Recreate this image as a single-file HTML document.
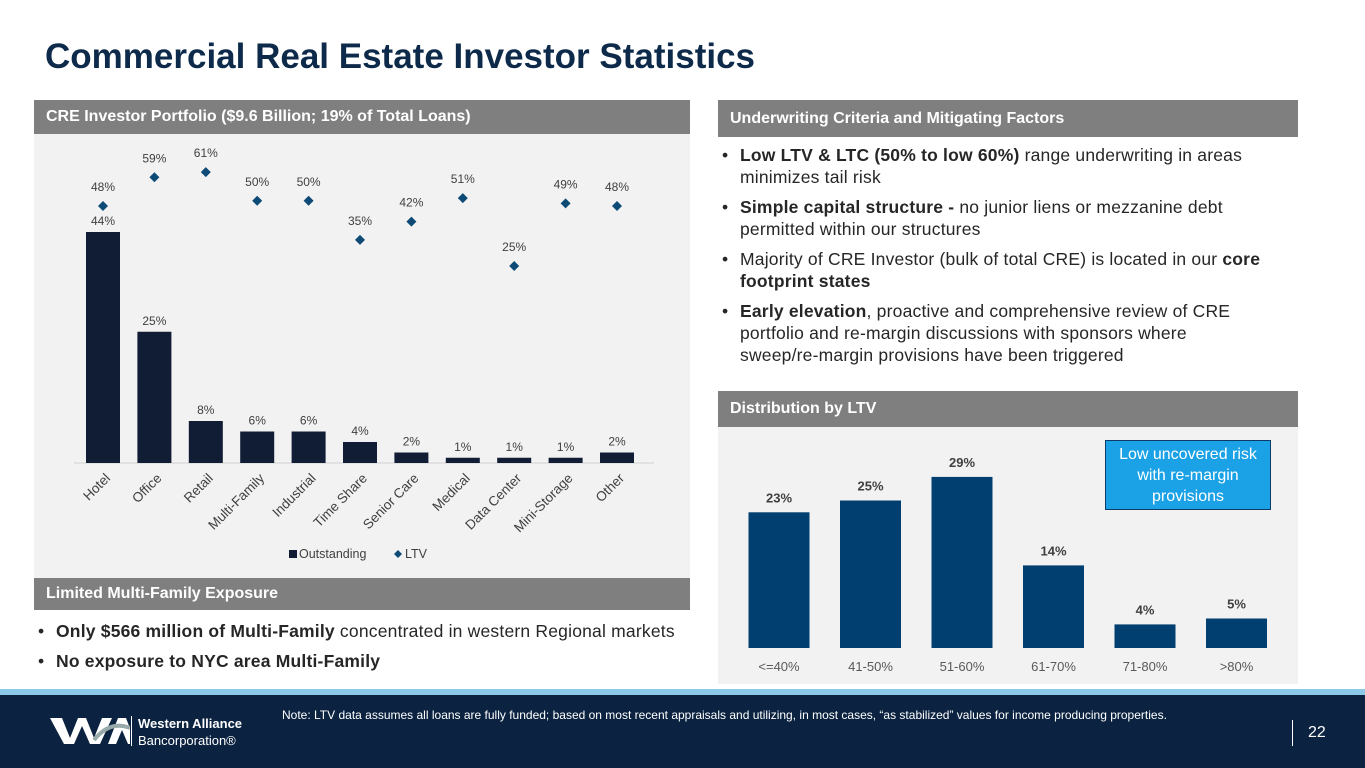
<!DOCTYPE html>
<html><head><meta charset="utf-8"><style>
body{margin:0;width:1365px;height:768px;position:relative;overflow:hidden;background:#fff;font-family:"Liberation Sans",sans-serif}
.a{position:absolute}
.hdr{position:absolute;background:#7f7f7f;color:#fff;font-weight:bold;font-size:16px;padding-left:12px;box-sizing:border-box;display:flex;align-items:center}
ul{margin:0;padding:0;list-style:none}
li{position:relative;padding-left:22px;font-size:17.5px;line-height:22px;color:#262626;margin-bottom:8px;letter-spacing:0.2px}
li:before{content:"•";position:absolute;left:4px}
</style></head><body>
<div class="a" style="left:45px;top:37px;font-size:35px;font-weight:bold;color:#0d2a4a">Commercial Real Estate Investor Statistics</div>

<div class="a" style="left:34px;top:100px;width:656px;height:478px;background:#f2f2f2"></div>
<div class="hdr" style="left:34px;top:100px;width:656px;height:34px">CRE Investor Portfolio ($9.6 Billion; 19% of Total Loans)</div>
<svg class="a" id="c1" style="left:34px;top:134px" width="656" height="444"></svg>

<div class="hdr" style="left:34px;top:578px;width:656px;height:32px">Limited Multi-Family Exposure</div>
<ul class="a" style="left:34px;top:620px;width:700px">
<li><b>Only $566 million of Multi-Family</b> concentrated in western Regional markets</li>
<li><b>No exposure to NYC area Multi-Family</b></li>
</ul>

<div class="hdr" style="left:718px;top:100px;width:580px;height:37px">Underwriting Criteria and Mitigating Factors</div>
<ul class="a" style="left:718px;top:144px;width:545px">
<li><b>Low LTV &amp; LTC (50% to low 60%)</b> range underwriting in areas minimizes tail risk</li>
<li><b>Simple capital structure -</b> no junior liens or mezzanine debt permitted within our structures</li>
<li>Majority of CRE Investor (bulk of total CRE) is located in our <b>core footprint states</b></li>
<li><b>Early elevation</b>, proactive and comprehensive review of CRE portfolio and re-margin discussions with sponsors where sweep/re-margin provisions have been triggered</li>
</ul>

<div class="a" style="left:718px;top:391px;width:580px;height:293px;background:#f2f2f2"></div>
<div class="hdr" style="left:718px;top:391px;width:580px;height:36px">Distribution by LTV</div>
<svg class="a" id="c2" style="left:718px;top:427px" width="580" height="257"></svg>
<div class="a" style="left:1105px;top:440px;width:166px;height:70px;background:#1ba1e6;border:1px solid #0d3b66;box-sizing:border-box;color:#fff;font-size:16px;text-align:center;line-height:21px;padding:3px 8px 0">Low uncovered risk with re-margin provisions</div>

<div class="a" style="left:0;top:689px;width:1365px;height:6px;background:#8cc8e8"></div>
<div class="a" style="left:0;top:695px;width:1365px;height:73px;background:#0b2340"></div>
<svg class="a" style="left:50px;top:716px" width="80" height="30"><polygon points="0,2 12,2 20,22 28,2 36,2 44,22 52,2 62,2 50,28 40,28 32,10 24,28 14,28" fill="#fff"/><polygon points="58,28 68,2 76,2 86,28 78,28 72,14 66,28" fill="#fff"/><path d="M44 24 Q60 4 80 12" stroke="#9aa" stroke-width="4" fill="none"/></svg>
<div class="a" style="left:131px;top:716px;width:1px;height:30px;background:#fff"></div>
<div class="a" style="left:138px;top:715px;color:#fff;font-size:13px;line-height:17px"><b>Western Alliance</b><br>Bancorporation®</div>
<div class="a" style="left:282px;top:708px;color:#fff;font-size:12px">Note: LTV data assumes all loans are fully funded; based on most recent appraisals and utilizing, in most cases, “as stabilized” values for income producing properties.</div>
<div class="a" style="left:1292px;top:720px;width:1px;height:26px;background:#fff"></div>
<div class="a" style="left:1308px;top:724px;color:#fff;font-size:16px">22</div>

<script>
const cats=["Hotel","Office","Retail","Multi-Family","Industrial","Time Share","Senior Care","Medical","Data Center","Mini-Storage","Other"];
const outstanding=[44,25,8,6,6,4,2,1,1,1,2];
const ltv=[48,59,61,50,50,35,42,51,25,49,48];
const ltvCats=["<=40%","41-50%","51-60%","61-70%","71-80%",">80%"];
const ltvDist=[23,25,29,14,4,5];
const NS="http://www.w3.org/2000/svg";
function mk(p,t,a,txt){const e=document.createElementNS(NS,t);for(const k in a)e.setAttribute(k,a[k]);if(txt!=null)e.textContent=txt;p.appendChild(e);return e;}
const c1=document.getElementById('c1');
const x1=i=>69+i*51.4, yb=v=>329-v*5.25;
const yL=v=>72+(48-v)*2.61;
mk(c1,'line',{x1:40,x2:620,y1:329,y2:329,stroke:'#d0d0d0'});
cats.forEach((c,i)=>{
 let r=mk(c1,'rect',{x:x1(i)-17,y:yb(outstanding[i]),width:34,height:outstanding[i]*5.25,fill:'#111d35'});
 
 
 mk(c1,'text',{x:x1(i),y:yb(outstanding[i])-7,'text-anchor':'middle','font-size':12,fill:'#404040'},outstanding[i]+'%');
 let d=mk(c1,'path',{d:`M${x1(i)} ${yL(ltv[i])-5}l5 5l-5 5l-5-5z`,fill:'#0d4a75'});
 
 
 mk(c1,'text',{x:x1(i),y:yL(ltv[i])-15,'text-anchor':'middle','font-size':12,fill:'#404040'},ltv[i]+'%');
 let t=mk(c1,'text',{x:x1(i)+8,y:345,'text-anchor':'end','font-size':13.5,fill:'#404040',transform:`rotate(-45 ${x1(i)+8} 345)`},c);
 
 
});
mk(c1,'rect',{x:255,y:416,width:8,height:8,fill:'#111d35'});
mk(c1,'text',{x:265,y:424,'font-size':12.5,fill:'#404040'},'Outstanding');
mk(c1,'path',{d:'M364 416l4 4l-4 4l-4-4z',fill:'#0d4a75'});
mk(c1,'text',{x:371,y:424,'font-size':12.5,fill:'#404040'},'LTV');
const c2=document.getElementById('c2');
const x2=i=>61+i*91.5, y2=v=>221-v*5.9;
ltvCats.forEach((c,i)=>{
 let r=mk(c2,'rect',{x:x2(i)-30.5,y:y2(ltvDist[i]),width:61,height:ltvDist[i]*5.9,fill:'#003f70'});
 
 
 mk(c2,'text',{x:x2(i),y:y2(ltvDist[i])-10,'text-anchor':'middle','font-size':13,'font-weight':'bold',fill:'#404040'},ltvDist[i]+'%');
 mk(c2,'text',{x:x2(i),y:244,'text-anchor':'middle','font-size':13,fill:'#595959'},c);
});
</script>
</body></html>
